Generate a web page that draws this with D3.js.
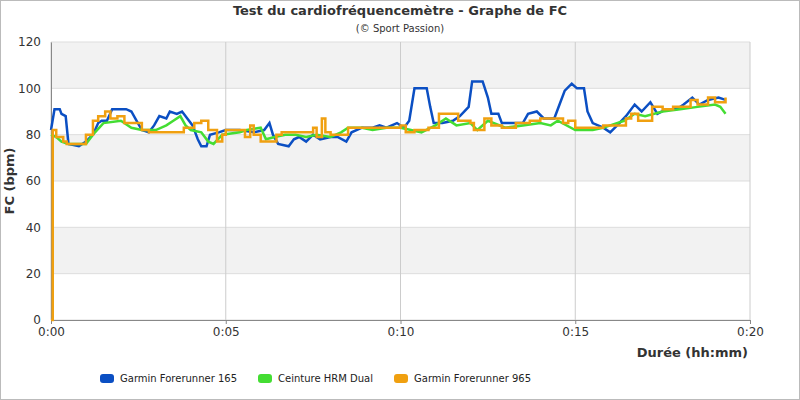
<!DOCTYPE html>
<html><head><meta charset="utf-8">
<script src="https://cdn.jsdelivr.net/npm/d3@7"></script>
<style>body{margin:0;background:#fff;font-family:"DejaVu Sans",sans-serif}</style>
</head><body><div id="chart"></div>
<script>
// [minutes, bpm]
const fr165 = [[0,82],[0.1,91],[0.25,91],[0.3,89],[0.42,88],[0.5,76],[0.8,75],[1.0,77],[1.2,80],[1.35,85],[1.45,86],[1.6,86],[1.75,91],[2.0,91],[2.15,91],[2.3,90],[2.45,86],[2.6,82],[2.8,81],[2.95,84],[3.1,88],[3.3,87],[3.4,90],[3.6,89],[3.75,90],[3.9,87],[4.05,84],[4.2,78],[4.3,75],[4.45,75],[4.55,80],[4.8,81],[5.0,82],[5.4,82],[5.8,81],[6.1,82],[6.25,85],[6.35,80],[6.5,76],[6.8,75],[6.95,78],[7.1,79],[7.3,77],[7.5,80],[7.7,78],[8.0,79],[8.2,79],[8.45,77],[8.6,81],[8.9,83],[9.2,83],[9.4,84],[9.6,83],[9.9,85],[10.1,83],[10.25,86],[10.4,100],[10.75,100],[10.85,92],[10.95,85],[11.2,85],[11.5,86],[11.7,88],[11.95,92],[12.05,103],[12.35,103],[12.5,96],[12.6,89],[12.8,89],[12.9,85],[13.5,85],[13.65,89],[13.9,90],[14.1,87],[14.4,87],[14.55,93],[14.7,99],[14.9,102],[15.05,100],[15.25,100],[15.35,90],[15.5,85],[15.8,83],[16.0,81],[16.2,84],[16.45,88],[16.7,93],[16.9,90],[17.15,94],[17.35,89],[17.6,91],[17.9,91],[18.1,93],[18.35,96],[18.55,93],[18.8,95],[19.1,96],[19.3,95]];
const hrmDual = [[0,80],[0.15,79],[0.3,77],[0.5,76],[1.0,76],[1.2,80],[1.5,85],[2.0,86],[2.3,83],[2.6,82],[3.0,82],[3.3,84],[3.5,86],[3.7,88],[3.85,84],[4.0,82],[4.3,81],[4.5,77],[4.65,76],[4.9,80],[5.4,81],[5.6,82],[6.0,83],[6.15,78],[6.4,79],[6.7,80],[7.0,80],[7.3,79],[7.6,80],[8.0,79],[8.3,81],[8.5,83],[8.9,83],[9.2,82],[9.6,83],[10.0,83],[10.3,82],[10.6,81],[11.0,84],[11.3,87],[11.6,84],[12.0,85],[12.2,82],[12.5,86],[13.0,83],[13.5,84],[14.0,85],[14.3,84],[14.5,86],[15.0,82],[15.5,82],[15.8,83],[16.0,84],[16.4,86],[16.7,89],[17.0,88],[17.5,90],[18.0,91],[18.5,92],[19.0,93],[19.15,92],[19.3,89]];
const fr965 = [[0,0],[0.05,82],[0.15,79],[0.35,77],[0.45,76],[0.8,76],[1.0,80],[1.2,86],[1.35,88],[1.55,90],[1.7,87],[1.9,88],[2.1,85],[2.45,85],[2.6,82],[2.8,81],[3.5,81],[3.8,83],[4.1,85],[4.3,86],[4.5,82],[4.6,82],[4.75,77],[4.9,80],[5.0,82],[5.4,82],[5.55,79],[5.7,84],[5.8,80],[6.0,77],[6.3,77],[6.45,80],[6.6,81],[7.4,81],[7.5,83],[7.6,79],[7.75,87],[7.85,81],[8.0,80],[8.35,80],[8.5,83],[9.0,83],[9.5,83],[10.0,84],[10.15,81],[10.4,82],[10.8,83],[11.1,89],[11.5,89],[11.65,86],[12.0,85],[12.1,82],[12.3,82],[12.4,87],[12.6,84],[12.9,83],[13.3,85],[13.6,85],[13.7,86],[14.0,87],[14.5,87],[14.65,85],[14.8,86],[15.0,83],[15.6,83],[15.8,84],[16.3,84],[16.45,87],[16.6,89],[16.8,86],[17.1,86],[17.2,92],[17.5,91],[17.8,92],[18.3,95],[18.5,93],[18.8,96],[19.0,94],[19.3,96]];
const xTicks = [0, 5, 10, 15, 20];
const xTickLabels = ["0:00", "0:05", "0:10", "0:15", "0:20"];
const yTicks = [0, 20, 40, 60, 80, 100, 120];
const series = [
  {name: "Garmin Forerunner 165", data: fr165, color: "#0b4fc3", curve: d3.curveLinear},
  {name: "Ceinture HRM Dual", data: hrmDual, color: "#44dd33", curve: d3.curveLinear},
  {name: "Garmin Forerunner 965", data: fr965, color: "#f0a010", curve: d3.curveStepAfter}
];

const W = 800, H = 400;
const m = {top: 42, right: 50, bottom: 80, left: 51};
const svg = d3.select("#chart").append("svg").attr("width", W).attr("height", H);
svg.append("rect").attr("x", 0.5).attr("y", 0.5).attr("width", W - 1).attr("height", H - 1)
  .attr("fill", "#fff").attr("stroke", "#bbb");

const x = d3.scaleLinear().domain([0, 20]).range([m.left, W - m.right]);
const y = d3.scaleLinear().domain([0, 120]).range([H - m.bottom, m.top]);

// alternating bands
for (let i = 0; i < yTicks.length - 1; i++) {
  if (i % 2 === 1) svg.append("rect").attr("x", x(0)).attr("width", x(20) - x(0))
    .attr("y", y(yTicks[i + 1])).attr("height", y(yTicks[i]) - y(yTicks[i + 1])).attr("fill", "#f2f2f2");
}
svg.selectAll(".hg").data(yTicks).enter().append("line")
  .attr("x1", x(0)).attr("x2", x(20)).attr("y1", d => y(d)).attr("y2", d => y(d)).attr("stroke", "#ddd");
svg.selectAll(".vg").data(xTicks).enter().append("line")
  .attr("x1", d => x(d)).attr("x2", d => x(d)).attr("y1", y(0)).attr("y2", y(120)).attr("stroke", "#ccc");

svg.append("g").attr("transform", `translate(0,${y(0)})`)
  .call(d3.axisBottom(x).tickValues(xTicks).tickFormat((d, i) => xTickLabels[i]).tickSize(4))
  .call(g => g.selectAll("text").attr("font-size", 12).attr("fill", "#333").attr("font-family", "DejaVu Sans"))
  .call(g => g.selectAll("line,path").attr("stroke", "#888"));
svg.append("g").attr("transform", `translate(${x(0)},0)`)
  .call(d3.axisLeft(y).tickValues(yTicks).tickSize(0).tickPadding(10))
  .call(g => g.select("path").attr("stroke", "#888"))
  .call(g => g.selectAll("text").attr("font-size", 12).attr("fill", "#333").attr("font-family", "DejaVu Sans"));

series.forEach(s => {
  svg.append("path").datum(s.data)
    .attr("fill", "none").attr("stroke", s.color).attr("stroke-width", 2.5)
    .attr("d", d3.line().x(d => x(d[0])).y(d => y(d[1])).curve(s.curve));
});

svg.append("text").attr("x", 400).attr("y", 15).attr("text-anchor", "middle")
  .attr("font-size", 13).attr("font-weight", "bold").attr("fill", "#333").text("Test du cardiofréquencemètre - Graphe de FC");
svg.append("text").attr("x", 400).attr("y", 32).attr("text-anchor", "middle")
  .attr("font-size", 10).attr("fill", "#333").text("(© Sport Passion)");
svg.append("text").attr("x", 748).attr("y", 357).attr("text-anchor", "end")
  .attr("font-size", 13).attr("font-weight", "bold").attr("fill", "#333").text("Durée (hh:mm)");
svg.append("text").attr("transform", `translate(14,${y(60)}) rotate(-90)`).attr("text-anchor", "middle")
  .attr("font-size", 13).attr("font-weight", "bold").attr("fill", "#333").text("FC (bpm)");

const legX = [100, 258, 394];
series.forEach((s, i) => {
  svg.append("rect").attr("x", legX[i]).attr("y", 374).attr("width", 14).attr("height", 9).attr("rx", 3).attr("fill", s.color);
  svg.append("text").attr("x", legX[i] + 20).attr("y", 382).attr("font-size", 10).attr("fill", "#222").text(s.name);
});
</script></body></html>
